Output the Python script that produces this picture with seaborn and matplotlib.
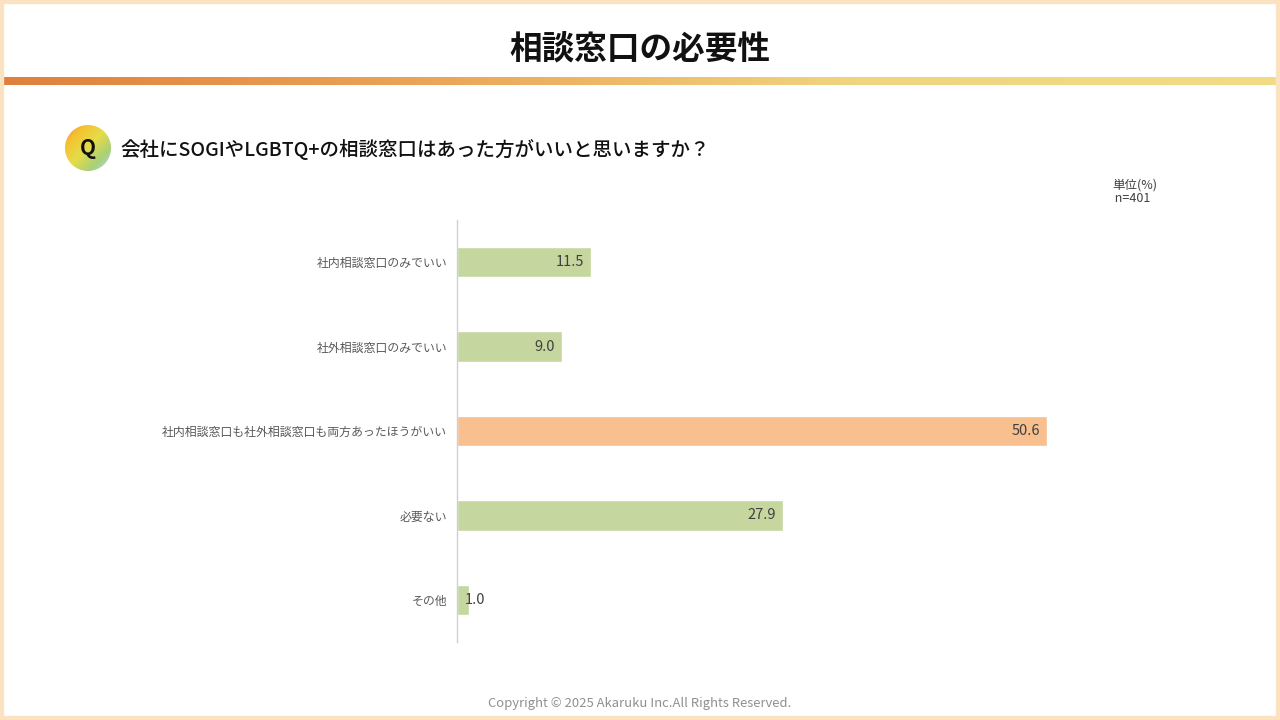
import numpy as np
import matplotlib
matplotlib.use("Agg")
import matplotlib.pyplot as plt
from matplotlib.colors import LinearSegmentedColormap
from matplotlib.patches import Circle, Rectangle
import seaborn as sns
import pandas as pd

categories = ["社内相談窓口のみでいい", "社外相談窓口のみでいい",
              "社内相談窓口も社外相談窓口も両方あったほうがいい", "必要ない", "その他"]
values = [11.5, 9.0, 50.6, 27.9, 1.0]
bar_colors = ["#C5D79E", "#C5D79E", "#F8BF8F", "#C5D79E", "#C5D79E"]

title = "相談窓口の必要性"
question = "会社にSOGIやLGBTQ+の相談窓口はあった方がいいと思いますか？"
unit_text = "単位(%)\n n=401"
copyright_text = "Copyright © 2025 Akaruku Inc.All Rights Reserved."

sns.set_theme(style="white")
plt.rcParams['font.family'] = ['Noto Sans CJK JP', 'DejaVu Sans']

W, H = 1280, 720
fig = plt.figure(figsize=(12.8, 7.2), dpi=100)
fig.patch.set_facecolor("white")

def fx(px): return px / W
def fy(py): return 1 - py / H

# border frame
fig.patches.append(Rectangle((0, 0), 1, 1, transform=fig.transFigure, fill=False,
                             edgecolor="#FBE2C0", linewidth=6, zorder=10))

# title
fig.text(0.5, fy(50), title, ha="center", va="center", fontsize=23.5, fontweight="bold", color="#111111")

# gradient bar
gax = fig.add_axes([fx(3), fy(85), fx(1274), (85 - 77) / H])
grad_cmap = LinearSegmentedColormap.from_list("g", ["#E0803C", "#EBA556", "#F0D480", "#F2DC86"])
gax.imshow(np.linspace(0, 1, 512).reshape(1, -1), aspect="auto", cmap=grad_cmap)
gax.axis("off")

# Q icon
qax = fig.add_axes([fx(64), fy(172), 48 / W, 48 / H])
yy, xx = np.mgrid[0:1:200j, 0:1:200j]
t = (xx + yy) / 2
q_cmap = LinearSegmentedColormap.from_list("q", ["#F08A3A", "#F4C531", "#E4DC4A", "#A8D07A", "#B4DDF0"])
im = qax.imshow(t, cmap=q_cmap, extent=[0, 1, 0, 1], origin="upper")
circ = Circle((0.5, 0.5), 0.48, transform=qax.transData)
im.set_clip_path(circ)
qax.set_xlim(0, 1); qax.set_ylim(0, 1)
qax.axis("off")
qax.text(0.5, 0.48, "Q", ha="center", va="center", fontsize=15, fontweight="bold", color="#111111")

# question
fig.text(fx(120), fy(149), question, ha="left", va="center", fontsize=14, fontweight="medium", color="#111111")

# unit
fig.text(fx(1112), fy(192), unit_text, ha="left", va="center", fontsize=9, color="#404040", linespacing=1.1)

# bar chart
ax = fig.add_axes([fx(457), fy(642), fx(1157) - fx(457), (642 - 220) / H])
df = pd.DataFrame({"cat": categories, "val": values})
sns.barplot(data=df, x="val", y="cat", hue="cat", palette=bar_colors, legend=False,
            orient="h", width=0.36, ax=ax, saturation=1)
ax.set_xlim(0, 60)
ax.set_ylim(len(categories) - 0.5, -0.5)
ax.set_xlabel(""); ax.set_ylabel("")
ax.set_xticks([])
for s in ["top", "right", "bottom"]:
    ax.spines[s].set_visible(False)
ax.spines["left"].set_color("#D0D0D0")
ax.spines["left"].set_linewidth(1)
ax.tick_params(axis="y", length=0, pad=7, labelsize=8.6, labelcolor="#595959")
for lab in ax.get_yticklabels():
    lab.set_color("#595959")

for i, v in enumerate(values):
    if v < 3:
        ax.text(v - 0.35, i, f"{v:.1f}", ha="left", va="center", fontsize=10.5, color="#404040")
    else:
        ax.text(v - 0.6, i, f"{v:.1f}", ha="right", va="center", fontsize=10.5, color="#404040")

# copyright
fig.text(0.5, fy(704), copyright_text, ha="center", va="center", fontsize=9.4, color="#909090")

fig.savefig("out.png", dpi=100, facecolor=fig.get_facecolor())
